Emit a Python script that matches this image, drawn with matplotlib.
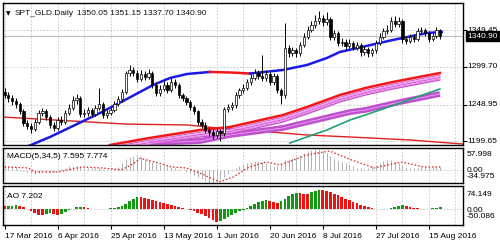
import matplotlib
matplotlib.use('Agg')
import matplotlib.pyplot as plt
from matplotlib import font_manager
import matplotlib.transforms as mtransforms

# ---------------- data ----------------
title_sym = "SPT_GLD.Daily"
title_ohlc = "1350.05 1351.15 1337.70 1340.90"
macd_label = "MACD(5,34,5) 7.595 7.774"
ao_label = "AO 7.202"
date_labels = ["17 Mar 2016", "6 Apr 2016", "25 Apr 2016", "13 May 2016", "1 Jun 2016",
               "20 Jun 2016", "8 Jul 2016", "27 Jul 2016", "15 Aug 2016"]
date_label_bars = [0, 14, 28, 42, 56, 70, 84, 98, 112]

opens = [1266, 1262, 1258, 1254, 1250, 1240, 1224, 1220, 1216, 1226, 1237, 1240, 1232, 1222, 1218, 1228,
         1226, 1238, 1245, 1255, 1258, 1236, 1238, 1242, 1236, 1244, 1250, 1235, 1238, 1242, 1250, 1256,
         1266, 1291, 1296, 1292, 1284, 1290, 1286, 1292, 1276, 1264, 1270, 1276, 1268, 1280, 1276, 1262,
         1258, 1252, 1246, 1240, 1226, 1222, 1215, 1212, 1208, 1213, 1210, 1243, 1246, 1248, 1262, 1268,
         1272, 1280, 1285, 1292, 1288, 1285, 1290, 1280, 1288, 1268, 1262, 1325, 1318, 1322, 1318, 1330,
         1340, 1350, 1356, 1362, 1366, 1360, 1365, 1340, 1345, 1332, 1334, 1328, 1332, 1326, 1330, 1320,
         1324, 1318, 1322, 1332, 1340, 1348, 1350, 1362, 1358, 1362, 1338, 1335, 1340, 1338, 1348, 1350,
         1346, 1338, 1342, 1350.05]
highs = [1272, 1266, 1262, 1258, 1253, 1243, 1228, 1224, 1230, 1241, 1245, 1243, 1235, 1226, 1232, 1233,
         1242, 1250, 1260, 1263, 1260, 1243, 1246, 1245, 1248, 1271, 1252, 1242, 1246, 1254, 1260, 1270,
         1294, 1303, 1300, 1295, 1295, 1294, 1297, 1294, 1279, 1275, 1281, 1279, 1285, 1283, 1278, 1265,
         1261, 1255, 1249, 1242, 1230, 1225, 1219, 1216, 1217, 1216, 1246, 1250, 1252, 1266, 1272, 1277,
         1284, 1290, 1297, 1296, 1316, 1295, 1293, 1292, 1290, 1272, 1359, 1330, 1327, 1326, 1334, 1345,
         1355, 1362, 1370, 1375, 1370, 1374, 1367, 1350, 1348, 1339, 1337, 1337, 1335, 1334, 1332, 1328,
         1327, 1326, 1336, 1345, 1353, 1356, 1367, 1368, 1367, 1364, 1342, 1344, 1343, 1352, 1354, 1353,
         1348, 1346, 1354, 1351.15]
lows = [1258, 1252, 1249, 1245, 1236, 1220, 1216, 1211, 1213, 1223, 1233, 1228, 1217, 1213, 1215, 1222,
        1223, 1235, 1242, 1250, 1232, 1232, 1234, 1232, 1233, 1241, 1231, 1231, 1235, 1239, 1247, 1253,
        1263, 1288, 1287, 1280, 1281, 1282, 1283, 1272, 1261, 1261, 1267, 1265, 1266, 1272, 1258, 1254,
        1248, 1242, 1236, 1222, 1218, 1211, 1207, 1203, 1204, 1200, 1207, 1239, 1242, 1245, 1258, 1264,
        1268, 1276, 1282, 1284, 1281, 1281, 1276, 1276, 1264, 1250, 1258, 1313, 1314, 1313, 1315, 1327,
        1337, 1347, 1352, 1358, 1355, 1356, 1336, 1336, 1328, 1328, 1323, 1325, 1322, 1322, 1315, 1316,
        1313, 1314, 1319, 1329, 1337, 1344, 1347, 1354, 1354, 1332, 1331, 1332, 1334, 1335, 1344, 1342,
        1334, 1335, 1339, 1337.70]
closes = [1262, 1258, 1254, 1250, 1240, 1224, 1220, 1216, 1226, 1237, 1240, 1232, 1222, 1218, 1228, 1226,
          1238, 1245, 1255, 1258, 1236, 1238, 1242, 1236, 1244, 1250, 1235, 1238, 1242, 1250, 1256, 1266,
          1291, 1296, 1292, 1284, 1290, 1286, 1292, 1276, 1264, 1270, 1276, 1268, 1280, 1276, 1262, 1258,
          1252, 1246, 1240, 1226, 1222, 1215, 1212, 1208, 1213, 1210, 1243, 1246, 1248, 1262, 1268, 1272,
          1280, 1285, 1292, 1288, 1285, 1290, 1280, 1288, 1268, 1262, 1325, 1318, 1322, 1318, 1330, 1340,
          1350, 1356, 1362, 1366, 1360, 1365, 1340, 1345, 1332, 1334, 1328, 1332, 1326, 1330, 1320, 1324,
          1318, 1322, 1332, 1340, 1348, 1350, 1362, 1358, 1362, 1338, 1335, 1340, 1338, 1348, 1350, 1346,
          1338, 1342, 1350, 1340.90]
last_price = 1340.90

# moving averages (bar position, price)
blue_ma_x = [5.7, 12.0, 18.6, 25.2, 31.8, 39.2, 43.7, 48.2, 54.2]
blue_ma_y = [1191.7, 1205.2, 1221.4, 1237.6, 1255.2, 1275.4, 1284.9, 1290.3, 1293.0]
flat_ma_x = [54.2, 59.5, 64.8]
flat_ma_y = [1293.0, 1292.3, 1290.9]
blue2_ma_x = [64.8, 73.5, 79.8, 85.1, 88.5, 94.3, 102.5, 111.5, 115.4]
blue2_ma_y = [1290.9, 1295.7, 1302.4, 1311.9, 1320.0, 1326.7, 1336.2, 1345.6, 1347.0]

slow_red_x = [-0.5, 31.8, 48.2, 56.1, 63.5, 73.5, 79.8, 91.2, 107.0, 121.0]
slow_red_y = [1232.2, 1222.7, 1221.4, 1217.4, 1214.7, 1210.6, 1207.9, 1205.2, 1201.2, 1195.7]

red_ma_x = [27.8, 38.3, 51.6, 59.5, 73.5, 79.8, 88.5, 95.2, 102.5, 114.9]
red_ma_y = [1194.4, 1203.9, 1214.7, 1218.7, 1234.9, 1245.7, 1261.9, 1271.3, 1279.5, 1291.6]
ribbon_top = [1191.4, 1200.9, 1211.7, 1215.7, 1231.9, 1242.7, 1258.9, 1268.3, 1276.5, 1288.6]
ribbon_bot = [1185.0, 1194.4, 1205.2, 1209.2, 1225.4, 1236.2, 1252.4, 1261.8, 1270.0, 1282.1]

purple_x = [38.4, 51.6, 59.5, 73.5, 91.2, 95.2, 104.4, 114.9]
purple_y = [1197.1, 1199.8, 1207.9, 1217.4, 1238.9, 1241.7, 1252.5, 1263.3]

green_x = [75.3, 79.8, 85.1, 91.2, 95.2, 104.4, 114.9]
green_y = [1197.1, 1205.2, 1214.7, 1228.2, 1234.9, 1251.1, 1270.0]

main_ticks = [1199.65, 1248.95, 1299.70, 1349.45]

macd_main = [12, 10, 9, 7, 3, -2, -6, -9, -10, -9, -7, -7, -8, -6, -3, 1, 5, 9, 11, 10, 7, 6, 6, 5, 5, 4,
             1, 0, 1, 3, 8, 18, 28, 35, 38, 37, 34, 30, 27, 22, 16, 14, 12, 9, 8, 6, 2, -1, -5, -9, -14,
             -20, -25, -30, -34, -36, -34, -28, -18, -10, -3, 4, 10, 15, 19, 22, 24, 23, 20, 17, 13, 11,
             9, 18, 26, 30, 32, 35, 40, 45, 49, 53, 55, 55, 51, 44, 38, 32, 26, 21, 17, 13, 9, 6, 4, 3,
             5, 9, 14, 19, 23, 25, 25, 22, 17, 12, 8, 6, 5, 6, 7, 8, 8, 8, 8, 7.595]
signal_x = [0, 6.3, 7.9, 14.2, 16.9, 20.3, 25.6, 30.9, 34.3, 35.8, 40.6, 44.1, 48.0, 51.5, 56.7, 60.4,
            64.6, 69.1, 72.6, 76.3, 79.7, 84.2, 85.8, 91.6, 97.6, 104.7, 110.8, 115]
signal_y = [7.6, 5.0, -5.6, -5.6, 0.0, 7.6, 5.0, 0.0, 18.2, 30.7, 18.2, 7.6, 5.0, -8.3, -32.0, -18.9,
            7.6, 20.9, 12.9, 26.2, 39.4, 47.4, 50.0, 26.2, 5.0, 20.9, 7.6, 7.774]
macd_max, macd_min = 57.998, -34.975

ao_vals = [10, 11, 12, 13, 11, 6, 0, -7, -13, -17, -19, -15, -12, -15, -18, -14, -9, -3, 2, 6, 8, 6, 4,
           2, 1, 0, 1, 2, 3, 4, 6, 10, 18, 26, 33, 40, 38, 35, 32, 29, 26, 23, 20, 17, 14, 11, 8, 5, 2,
           -2, -6, -11, -16, -22, -28, -34, -39, -36, -30, -24, -18, -12, -6, -1, 5, 11, 17, 22, 26, 29,
           27, 24, 21, 26, 34, 42, 49, 53, 51, 50, 49, 54, 58, 62, 61, 58, 54, 49, 44, 39, 34, 29, 24,
           19, 14, 10, 6, 3, 1, 0.5, 0.2, 1, 3, 6, 10, 13, 11, 8, 5, 3, 1, 0.5, 1.5, 3, 5, 7.202]
ao_max, ao_min = 74.149, -50.086

# ---------------- style ----------------
names = {f.name for f in font_manager.fontManager.ttflist}
if 'Liberation Sans Narrow' in names:
    FONT, FS = 'Liberation Sans Narrow', 7.0
else:
    FONT, FS = 'Liberation Sans', 6.0
plt.rcParams['font.family'] = [FONT, 'DejaVu Sans']

W, H = 500, 249
fig = plt.figure(figsize=(W / 100, H / 100), dpi=100)
fig.patch.set_facecolor('white')


def frame(x0, y0, x1, y1):
    return [x0 / W, 1 - y1 / H, (x1 - x0) / W, (y1 - y0) / H]


ax = fig.add_axes(frame(3, 3, 463, 145))
axm = fig.add_axes(frame(3, 148, 463, 183))
axa = fig.add_axes(frame(3, 186, 463, 225))

XMIN, XMAX = -0.4, 121.0
GRID = dict(color='#C4C4C4', lw=0.6, linestyle=(0, (2, 2)), zorder=0)
n = len(closes)
grid_bars = list(range(0, 126, 7))

for a in (ax, axm, axa):
    a.set_xlim(XMIN, XMAX)
    a.set_facecolor('white')
    for s in a.spines.values():
        s.set_color('black')
        s.set_linewidth(1.0)
    for gx in grid_bars:
        a.axvline(gx, **GRID)
    a.tick_params(axis='both', which='both', length=0, labelleft=False, labelbottom=False)

# ---- main panel ----
ax.set_ylim(1194.4, 1386.1)
for v in main_ticks:
    ax.axhline(v, **GRID)
ax.axhline(last_price, color='#BDBDBD', lw=0.8, zorder=0.5)

ax.plot(slow_red_x, slow_red_y, color='#E02020', lw=1.0, zorder=2)
ax.plot(purple_x, purple_y, color='#C050D0', lw=4.2, zorder=2, solid_capstyle='butt')
ax.plot(purple_x, purple_y, color='#E6A8F0', lw=0.6, zorder=2.1)
ax.plot(green_x, green_y, color='#22A070', lw=1.2, zorder=2.2)
for k, col in enumerate(['#D860D8', '#F0A8F0', '#D860D8', '#E890E8', '#C850D0']):
    f = k / 4
    ys = [t + (b - t) * f for t, b in zip(ribbon_top, ribbon_bot)]
    ax.plot(red_ma_x, ys, color=col, lw=0.9, zorder=2.3)
ax.plot(red_ma_x, red_ma_y, color='#F01818', lw=1.8, zorder=2.4)
ax.plot(blue_ma_x, blue_ma_y, color='#1A1AE6', lw=1.8, zorder=2.5)
ax.plot(flat_ma_x, flat_ma_y, color='#F01818', lw=1.8, zorder=2.5)
ax.plot(blue2_ma_x, blue2_ma_y, color='#1A1AE6', lw=1.8, zorder=2.5)

idx = list(range(n))
ax.vlines(idx, lows, highs, colors='black', lw=0.7, zorder=3)
bottoms = [min(o, c) for o, c in zip(opens, closes)]
heights = [max(abs(c - o), 0.6) for o, c in zip(opens, closes)]
fills = ['white' if c > o else 'black' for o, c in zip(opens, closes)]
ax.bar(idx, heights, bottom=bottoms, width=0.6, color=fills, edgecolor='black', lw=0.5, zorder=3.5)

ax.set_yticks(main_ticks)
ax.tick_params(axis='y', right=True, left=False, length=3, width=0.8, labelright=False)
bt = mtransforms.blended_transform_factory(ax.transAxes, ax.transData)
for v in main_ticks:
    ax.text(1.0095, v, f"{v:.2f}", transform=bt, fontsize=FS, va='center', ha='left', color='black',
            clip_on=False)
ax.text(1.0095, last_price, f"{last_price:.2f}", transform=bt, fontsize=FS, va='center', ha='left',
        color='white', clip_on=False, zorder=10,
        bbox=dict(boxstyle='square,pad=0.18', fc='black', ec='black'))

fig.text(6 / W, 1 - 13.5 / H, '\u25BC', fontsize=4.2, family='DejaVu Sans', va='center', ha='left')
fig.text(15 / W, 1 - 13.5 / H, title_sym, fontsize=FS, va='center', ha='left', color='#111111')
fig.text(77 / W, 1 - 13.5 / H, title_ohlc, fontsize=FS, va='center', ha='left', color='#111111')

# ---- MACD panel ----
axm.set_ylim(macd_min, macd_max)
axm.axhline(0, **GRID)
axm.vlines(idx, 0, macd_main, colors='#B0B0B0', lw=0.7, zorder=2)
axm.plot(signal_x, signal_y, color='#E02020', lw=0.9, linestyle=(0, (1.2, 1.6)), zorder=3)
axm.text(0.008, 0.77, macd_label, transform=axm.transAxes, fontsize=FS, va='center', ha='left')
for txt, yy in [("57.998", 155), ("0.00", 171), ("-34.975", 177)]:
    fig.text(467 / W, 1 - yy / H, txt, fontsize=FS, va='center', ha='left')

# ---- AO panel ----
axa.set_ylim(ao_min, ao_max)
axa.axhline(0, **GRID)
ao_cols = []
for i, v in enumerate(ao_vals):
    if i == 0:
        ao_cols.append('#EE1111')
    else:
        ao_cols.append('#119911' if v > ao_vals[i - 1] else '#EE1111')
axa.bar(idx, ao_vals, width=0.72, color=ao_cols, lw=0, zorder=2)
axa.text(0.008, 0.72, ao_label, transform=axa.transAxes, fontsize=FS, va='center', ha='left')
for txt, yy in [("74.149", 194), ("0.00", 210), ("-50.086", 216)]:
    fig.text(467 / W, 1 - yy / H, txt, fontsize=FS, va='center', ha='left')

axa.set_xticks(date_label_bars)
axa.set_xticklabels(date_labels, ha='left', fontsize=FS)
axa.tick_params(axis='x', bottom=True, length=3, width=0.8, labelbottom=True, pad=2.5)
for lab in axa.get_xticklabels():
    lab.set_horizontalalignment('left')
    lab.set_x(lab.get_position()[0])

fig.savefig('out.png', dpi=100, facecolor='white')
